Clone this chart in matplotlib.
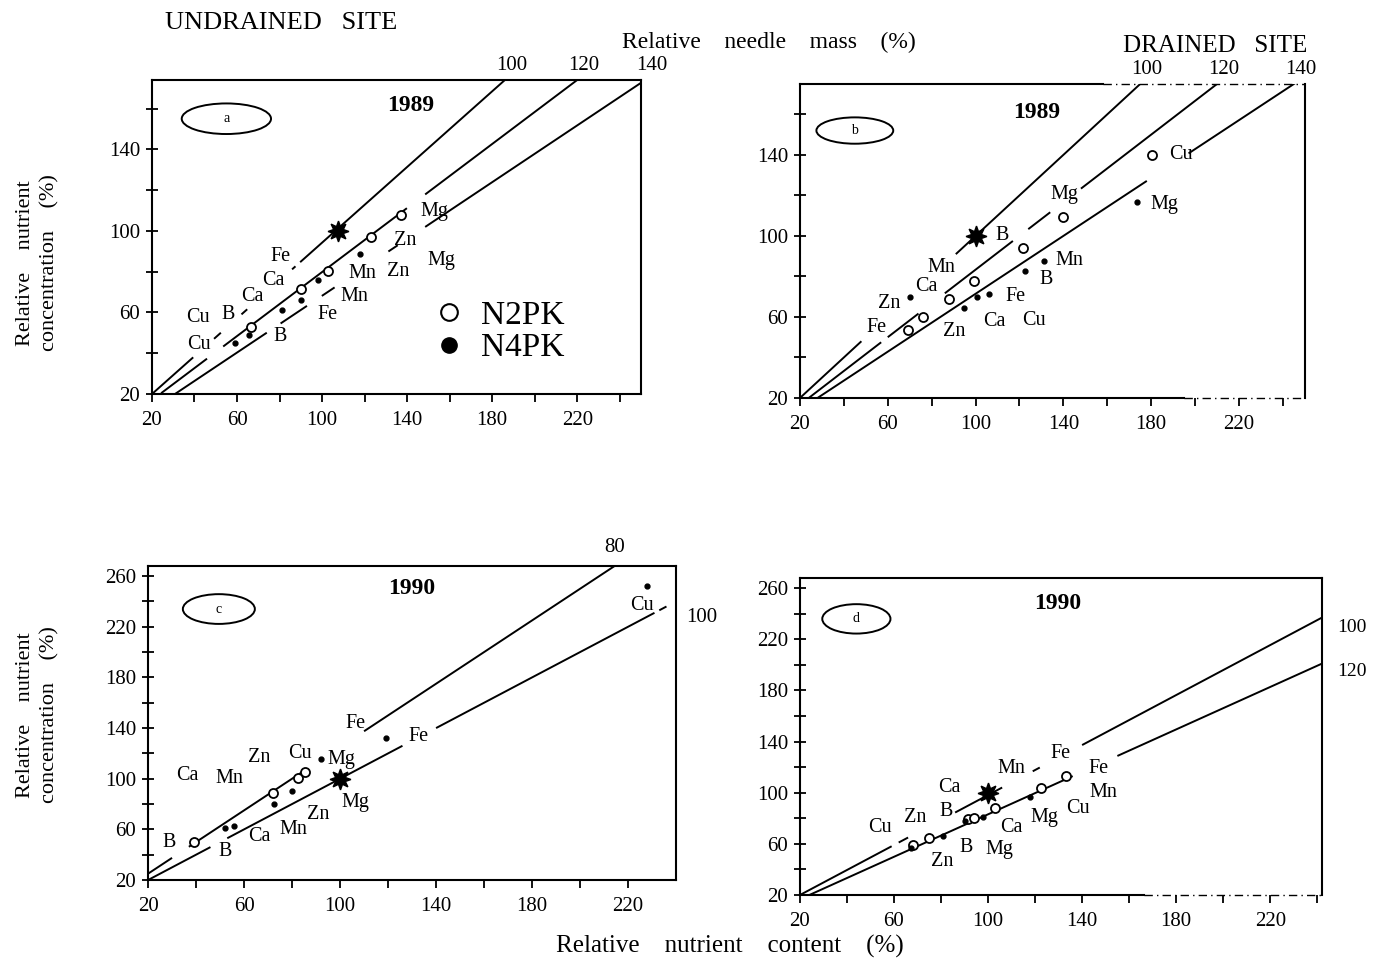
import matplotlib
matplotlib.use("Agg")
import matplotlib.pyplot as plt
import numpy as np
from matplotlib.lines import Line2D
from matplotlib.patches import Ellipse
from matplotlib.transforms import blended_transform_factory

plt.rcParams["font.family"] = ["Liberation Serif", "DejaVu Serif"]

# --- a: undrained site, 1989 ---
a_mass = [100, 120, 140]
# each isoline as two end points (x1, y1, x2, y2)
a_lines = [(20, 20, 186, 174), (23.8, 20, 220, 174), (30.8, 20, 252, 174)]
a_segments = [
    [(20.5, 39.4), (49.2, 52.4), (62.1, 64.8), (85.9, 87.5), (89.7, 200)],
    [(24.3, 45.9), (53.5, 139.9), (148.5, 235)],
    [(30.8, 74), (80.5, 92.9), (99.9, 105.9), (131.2, 135.6), (148.5, 252)],
]
a_ref_x = [107.5]
a_ref_y = [100]
a_open_x = [137, 123, 103, 90, 66.5]
a_open_y = [108, 97, 80.5, 71.5, 53]
a_fill_x = [118, 98, 90, 81, 65.5, 59]
a_fill_y = [88.5, 76, 66, 61, 49, 45]
a_labels = ["Mg", "Zn", "Mg", "Mn", "Zn", "Mn", "Fe", "B", "Fe", "Ca", "Ca", "Cu", "B", "Cu"]
a_label_x = [153, 139, 156, 119, 136, 115, 102.5, 80.2, 80.6, 77, 67, 41.6, 55.6, 42.3]
a_label_y = [109.5, 95.4, 85.6, 79.2, 80.3, 67.8, 58.9, 48.4, 87.3, 75.9, 67.8, 57.3, 58.9, 44.3]

# --- b: drained site, 1989 ---
b_mass = [100, 120, 140]
b_lines = [(20, 20, 175, 175), (24, 20, 210, 175), (28, 20, 245, 175)]
b_segments = [
    [(20.5, 48), (91, 180)],
    [(24, 57), (60, 74), (86, 117), (124, 134), (148, 215)],
    [(28, 178), (197, 250)],
]
b_ref_x = [100]
b_ref_y = [100]
b_open_x = [180.5, 139.8, 121.4, 99.2, 88.1, 75.9, 69.2]
b_open_y = [140.1, 109.3, 93.9, 77.7, 69.1, 59.9, 53.7]
b_fill_x = [173.4, 131, 122.5, 105.9, 100.8, 94.6, 70]
b_fill_y = [116.6, 87.7, 82.6, 71.2, 69.9, 64.2, 69.9]
b_labels = ["Cu", "Mg", "Mg", "B", "Mn", "Mn", "B", "Ca", "Fe", "Zn", "Ca", "Cu", "Zn", "Fe"]
b_label_x = [193.7, 140.3, 186.1, 111.9, 84.4, 142.9, 132.2, 77.6, 118.3, 60.7, 108.6, 126.8, 90.3, 54.7]
b_label_y = [140.1, 120.2, 115.3, 100.4, 84.2, 87.7, 78.3, 74.8, 70.2, 66.4, 57.8, 58.2, 52.9, 55]

# --- c: undrained site, 1990 ---
c_mass = [80, 100]
c_lines = [(16, 20, 214.4, 268), (20, 20, 240, 240)]
c_segments = [
    [(20, 30), (37, 86), (110, 220)],
    [(20, 46), (53, 126), (140, 231), (233, 236)],
]
c_ref_x = [100]
c_ref_y = [100]
c_open_x = [39, 72, 82.5, 85.5]
c_open_y = [50, 89, 100.5, 105]
c_fill_x = [52, 56, 72.5, 80, 92, 119, 228]
c_fill_y = [61, 63, 80, 90, 115.5, 132, 252]
c_labels = ["Fe", "Fe", "Zn", "Cu", "Mg", "Ca", "Mn", "Mg", "Zn", "Ca", "Mn", "B", "B", "Cu"]
c_label_x = [106.3, 132.8, 66.5, 83.2, 100.7, 36.2, 53.9, 106.3, 90.9, 66.5, 80.4, 28.8, 52.1, 225.6]
c_label_y = [144, 133.3, 116.5, 120, 115.5, 102.7, 100, 81.3, 72, 54.7, 60, 49.9, 42.7, 236.7]

# --- d: drained site, 1990 ---
d_mass = [100, 120]
d_lines = [(20, 20, 242, 237), (24, 20, 242, 201)]
d_segments = [
    [(20.5, 59), (62, 66), (86, 106), (119, 122), (140, 242)],
    [(20, 136), (155, 242)],
]
d_ref_x = [100]
d_ref_y = [100]
d_open_x = [68, 74.7, 91.5, 94, 103, 122.7, 133]
d_open_y = [59, 64.5, 79.5, 80.5, 88, 103.5, 113]
d_fill_x = [67.4, 81, 90, 98, 118]
d_fill_y = [57, 66.5, 78, 81, 97]
d_labels = ["Fe", "Mn", "Fe", "Ca", "Mn", "B", "Zn", "Cu", "Cu", "Mg", "Ca", "B", "Mg", "Zn"]
d_label_x = [131, 110, 147, 83.4, 149, 82, 69, 54, 138.4, 124, 110, 90.6, 105, 80.5]
d_label_y = [131, 119, 119, 104, 100, 85, 81, 73, 88, 81, 73, 57, 55.6, 46]

ticks_x = [20, 60, 100, 140, 180, 220]
ticks_y_1989 = [20, 60, 100, 140]
ticks_y_1990 = [20, 60, 100, 140, 180, 220, 260]


def draw_panel(ax, lines, segments, rx, ry, ox, oy, fx, fy, labels, lx, ly,
               xlim, ylim, yticks):
    """Draw one vector diagram."""
    for (x1, y1, x2, y2), segs in zip(lines, segments):
        for s0, s1 in segs:
            xs = np.array([s0, s1])
            ys = y1 + (xs - x1) * (y2 - y1) / (x2 - x1)
            ax.plot(xs, ys, color="black", lw=1.4, solid_capstyle="butt")
    ax.plot(ox, oy, ls="", marker="o", ms=6.5, mfc="white", mec="black", mew=1.3)
    ax.plot(fx, fy, ls="", marker="o", ms=3.5, color="black")
    ax.plot(rx, ry, ls="", marker=(8, 1, 0), ms=15, color="black")
    for t, x, y in zip(labels, lx, ly):
        ax.text(x, y, t, fontsize=14.5, ha="center", va="center")
    ax.set_xlim(*xlim)
    ax.set_ylim(*ylim)
    ax.set_xticks(ticks_x)
    ax.set_xticks(np.arange(20, xlim[1], 20), minor=True)
    ax.set_yticks(yticks)
    ax.set_yticks(np.arange(20, ylim[1], 20), minor=True)
    ax.tick_params(axis="x", which="both", direction="out", length=6, width=1.3,
                   labelsize=15, pad=6)
    ax.tick_params(axis="y", which="both", direction="inout", length=9, width=1.3,
                   labelsize=15, pad=4)
    for sp in ax.spines.values():
        sp.set_linewidth(1.5)


def broken_spine(ax, side, split):
    """Scanned border: solid part, then a faint dash-dot part."""
    ax.spines[side].set_visible(False)
    yv = 1 if side == "top" else 0
    ax.plot([0, split], [yv, yv], transform=ax.transAxes, color="black", lw=1.5, clip_on=False)
    ax.plot([split, 1], [yv, yv], transform=ax.transAxes, color="black", lw=1.0,
            ls=(0, (6, 3, 1, 3)), clip_on=False)


fig = plt.figure(figsize=(13.98, 9.66), dpi=100)

ax_a = fig.add_axes([0.1087, 0.5921, 0.3498, 0.3251])
ax_b = fig.add_axes([0.5722, 0.5880, 0.3612, 0.3251])
ax_c = fig.add_axes([0.1059, 0.0890, 0.3777, 0.3251])
ax_d = fig.add_axes([0.5722, 0.0735, 0.3734, 0.3282])

draw_panel(ax_a, a_lines, a_segments, a_ref_x, a_ref_y, a_open_x, a_open_y, a_fill_x, a_fill_y,
           a_labels, a_label_x, a_label_y, (20, 250), (20, 174), ticks_y_1989)
draw_panel(ax_b, b_lines, b_segments, b_ref_x, b_ref_y, b_open_x, b_open_y, b_fill_x, b_fill_y,
           b_labels, b_label_x, b_label_y, (20, 250), (20, 175), ticks_y_1989)
draw_panel(ax_c, c_lines, c_segments, c_ref_x, c_ref_y, c_open_x, c_open_y, c_fill_x, c_fill_y,
           c_labels, c_label_x, c_label_y, (20, 240), (20, 268), ticks_y_1990)
draw_panel(ax_d, d_lines, d_segments, d_ref_x, d_ref_y, d_open_x, d_open_y, d_fill_x, d_fill_y,
           d_labels, d_label_x, d_label_y, (20, 242), (20, 268), ticks_y_1990)

broken_spine(ax_b, "top", 0.6)
broken_spine(ax_b, "bottom", 0.76)
broken_spine(ax_d, "bottom", 0.66)

# panel tags and years
for ax, tag, year, ex, ey, ew, eh, yx, yy in [
    (ax_a, "a", "1989", 55, 155, 42, 15, 141.5, 161.5),
    (ax_b, "b", "1989", 45, 152, 35, 13, 128, 161),
    (ax_c, "c", "1990", 49.5, 234, 30, 23.5, 130, 250),
    (ax_d, "d", "1990", 44, 236, 29, 23, 129.5, 248),
]:
    ax.add_patch(Ellipse((ex, ey), ew, eh, fill=False, lw=1.4, color="black"))
    ax.text(ex, ey, tag, fontsize=10, ha="center", va="center")
    ax.text(yx, yy, year, fontsize=17, fontweight="bold", ha="center", va="center")

# mass isoline labels above the top edge / right of the right edge
for ax, mass, lines in [(ax_a, a_mass, a_lines), (ax_b, b_mass, b_lines)]:
    trans = blended_transform_factory(ax.transData, ax.transAxes)
    for m, (x1, y1, x2, y2) in zip(mass, lines):
        ax.text(x2 + 3, 1.045, str(m), transform=trans, fontsize=15,
                ha="center", va="center")

trans_c = blended_transform_factory(ax_c.transData, ax_c.transAxes)
ax_c.text(c_lines[0][2], 1.06, str(c_mass[0]), transform=trans_c, fontsize=15,
          ha="center", va="center")
trans_c2 = blended_transform_factory(ax_c.transAxes, ax_c.transData)
ax_c.text(1.02, 227, str(c_mass[1]), transform=trans_c2, fontsize=15, ha="left", va="center")
trans_d = blended_transform_factory(ax_d.transAxes, ax_d.transData)
for m, yl in zip(d_mass, [229, 195]):
    ax_d.text(1.03, yl, str(m), transform=trans_d, fontsize=14, ha="left", va="center")

# legend in panel a
handles = [
    Line2D([], [], ls="", marker="o", ms=12, mfc="white", mec="black", mew=1.5, label="N2PK"),
    Line2D([], [], ls="", marker="o", ms=11, color="black", label="N4PK"),
]
ax_a.legend(handles=handles, loc="upper left", bbox_to_anchor=(0.54, 0.34), frameon=False,
            fontsize=24, handletextpad=0.35, labelspacing=0.05, borderaxespad=0,
            handlelength=1.2)

# figure texts
fig.text(0.201, 0.976, "UNDRAINED   SITE", fontsize=19, ha="center", va="center")
fig.text(0.869, 0.952, "DRAINED   SITE", fontsize=18, ha="center", va="center")
fig.text(0.55, 0.956, "Relative    needle    mass    (%)", fontsize=17, ha="center", va="center")
fig.text(0.522, 0.020, "Relative    nutrient    content    (%)", fontsize=18,
         ha="center", va="center")
for yc in [0.728, 0.26]:
    fig.text(0.027, yc, "Relative    nutrient\nconcentration    (%)", fontsize=16, rotation=90,
             ha="center", va="center", linespacing=1.35)

fig.savefig("out.png", dpi=100)
